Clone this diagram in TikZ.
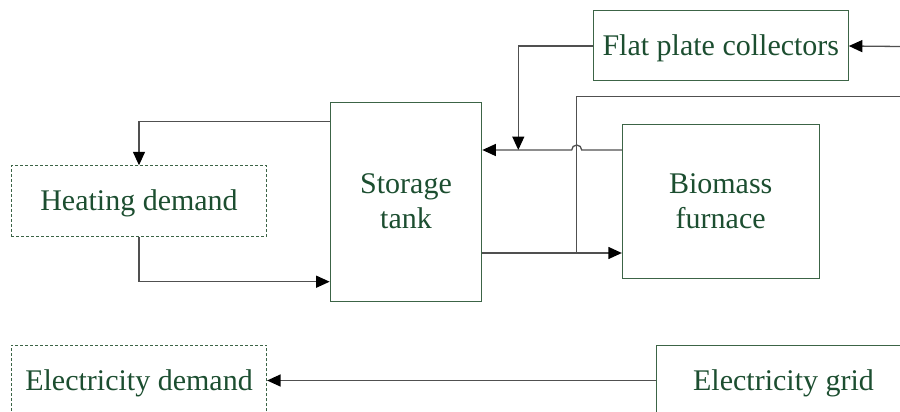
\documentclass[tikz,border=0pt]{standalone}
\usepackage{fontspec}
\setmainfont{Liberation Serif}
\newfontfamily\tnrfont{Liberation Serif}
\usetikzlibrary{arrows.meta}
\definecolor{txtgreen}{RGB}{28,78,48}
\definecolor{boxgreen}{RGB}{60,100,70}
\definecolor{linegray}{RGB}{80,80,80}
\begin{document}
\begin{tikzpicture}[x=1pt,y=-1pt,
  box/.style={draw=boxgreen, line width=1pt, text=txtgreen,
    font=\tnrfont\fontsize{30}{35}\selectfont, align=center, inner sep=0pt, rectangle},
  oneline/.style={text height=21pt, text depth=2pt},
  dbox/.style={box, dash pattern=on 3pt off 2pt, line width=0.8pt},
  conn/.style={draw=linegray, line width=1.3pt},
  arr/.style={conn, -{Triangle[length=13.5pt,width=12pt,fill=black,color=black]}}]
\clip (0,0) rectangle (900,412);
\useasboundingbox (0,0) rectangle (900,412);
% nodes
\node[dbox, oneline, minimum width=255.4pt, minimum height=71pt] (heat) at (139,201.2) {Heating demand};
\node[box, minimum width=151.7pt, minimum height=199pt] (tank) at (406,201.7) {Storage\\tank};
\node[box, minimum width=196.7pt, minimum height=154pt] (bio) at (720.7,201.3) {Biomass\\furnace};
\node[box, oneline, minimum width=255pt, minimum height=70pt] (fpc) at (720.8,46) {Flat plate collectors};
\node[dbox, oneline, minimum width=255.4pt, minimum height=71pt] (edem) at (139,380.5) {Electricity demand};
\node[box, oneline, minimum width=255pt, minimum height=71pt] (egrid) at (783.5,380.5) {Electricity grid};
% coordinates
\coordinate (inF) at (900,46.5);
\coordinate (inR) at (900,96.5);
\coordinate (j1) at (518.3,150);
\coordinate (j2) at (576.7,253);
\coordinate (hopR) at (581.7,150);
% connectors
\draw[arr] ([yshift=-19.5pt]tank.north west) -| (heat.north);
\draw[arr] (heat.south) |- ([yshift=20pt]tank.south west);
\draw[arr] (inF) -- (fpc.east);
\draw[arr] (fpc.west) -| (j1);
\draw[conn] (inR) -| (j2);
\draw[arr] (tank.east |- j2) -- (bio.west |- j2);
\draw[arr] (bio.west |- j1) -- (hopR) arc[start angle=0, end angle=180, radius=5pt] -- (tank.east |- j1);
\draw[arr] (egrid.west) -- (edem.east);
\end{tikzpicture}
\end{document}
